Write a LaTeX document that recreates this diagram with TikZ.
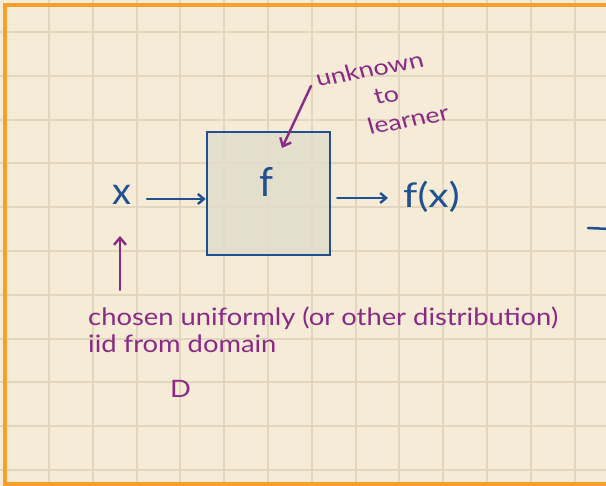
\documentclass[tikz,border=0pt]{standalone}
\usepackage{fontspec}
\setmainfont{Lato}
\usetikzlibrary{arrows.meta}
\definecolor{paper}{HTML}{F5EBD6}
\definecolor{gridc}{HTML}{E2D6BE}
\definecolor{frame}{HTML}{F5A02A}
\definecolor{ink}{HTML}{1F5190}
\definecolor{plum}{HTML}{8A2A84}
\definecolor{boxfill}{HTML}{E2DCCB}
\tikzset{
  bluetext/.style={text=ink, font=\fontsize{30}{30}\selectfont, inner sep=0pt},
  plumtext/.style={text=plum, font=\fontsize{24}{24}\selectfont, inner sep=0pt, anchor=base west, xscale=1.14},
  notetext/.style={text=plum, font=\fontsize{22}{22}\selectfont, inner sep=0pt, anchor=base west, xscale=1.22, rotate=13},
  bluearrow/.style={draw=ink, line width=2.4pt, line cap=round, -{Straight Barb[length=6pt,width=10pt]}},
  plumarrow/.style={draw=plum, line width=2.4pt, line cap=round, -{Straight Barb[length=7pt,width=12pt]}},
}
\begin{document}
\begin{tikzpicture}[x=1pt,y=-1pt]
\useasboundingbox (0,0) rectangle (606,486);
\fill[paper] (0,0) rectangle (606,486);
\foreach \i in {0,...,13} {\draw[gridc, line width=2pt] (49+43.8*\i,0) -- (49+43.8*\i,486);}
\foreach \j in {0,...,10} {\draw[gridc, line width=2pt] (0,32+43.8*\j) -- (606,32+43.8*\j);}
\draw[frame, line width=4pt] (610,5) -- (5,5) -- (5,484) -- (610,484);
% box
\node[draw=ink, line width=2.5pt, fill=boxfill, fill opacity=0.85, minimum width=123pt, minimum height=123pt, inner sep=0pt] (fbox) at (268.5,193.5) {};
\node[bluetext, font=\fontsize{40}{40}\selectfont] (flabel) at (267,182) {f};
\node[bluetext, font=\fontsize{38}{38}\selectfont] (xin) at (122,195) {x};
\node[bluetext, anchor=west, font=\fontsize{34}{34}\selectfont, xscale=1.2] (fx) at (403,197) {f(x)};
\coordinate (xa) at (147,199);
\coordinate (xb) at (388,198);
\draw[bluearrow] (xa) -- (fbox.west |- xa);
\draw[bluearrow] ([xshift=6pt]fbox.east |- xb) -- (xb);
\coordinate (stubA) at (588,228);
\coordinate (stubB) at (610,229);
\draw[ink, line width=2.5pt, line cap=round] (stubA) -- (stubB);
% unknown to learner
\node[notetext] (unk) at (318,87) {unknown};
\node[notetext] (to) at (376,105) {to};
\node[notetext] (lrn) at (370,135) {learner};
\coordinate (ua) at (311,86);
\coordinate (ub) at (282,148);
\draw[plumarrow] (ua) -- (ub);
% chosen
\node[plumtext] (l1) at (88,326) {chosen uniformly (or other distribution)};
\node[plumtext] (l2) at (88,353) {iid from domain};
\node[plumtext] (l3) at (170,398) {D};
\coordinate (ca) at (120,290);
\coordinate (cb) at (120,236);
\draw[plumarrow] (ca) -- (cb);
\end{tikzpicture}
\end{document}
